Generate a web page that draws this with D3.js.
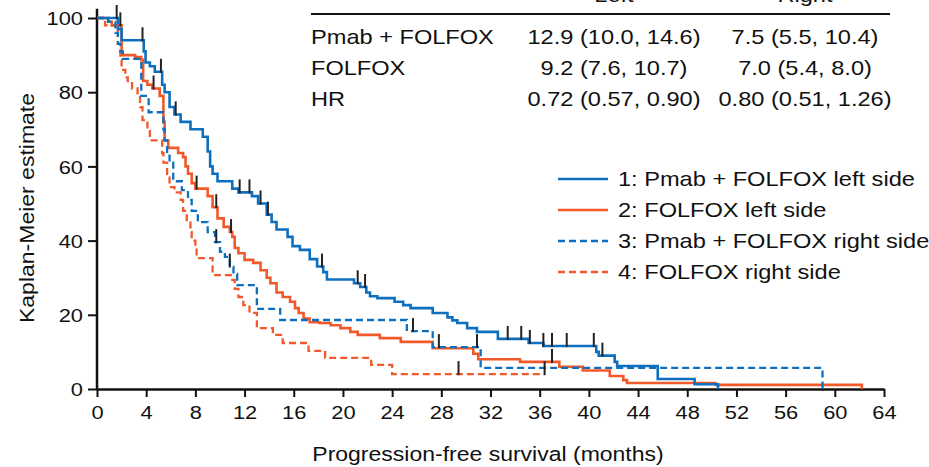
<!DOCTYPE html>
<html>
<head>
<meta charset="utf-8">
<script src="https://cdn.jsdelivr.net/npm/d3@7"></script>
<style>
  body { margin: 0; background: #fff; }
  text { font-family: "Liberation Sans", Arial, Helvetica, sans-serif; fill: #111; }
</style>
</head>
<body>
<script>
// ---- data ----
// event times (months) and survival (%) after each step
const pmabLeftT  = [1.7, 2.0, 3.8, 3.95, 4.3, 4.7, 5.3, 5.5, 5.9, 6.3, 6.8, 7.6, 8.6, 9.0, 9.2, 9.4, 9.8, 11.0, 11.5, 12.6, 13.1, 13.8, 14.2, 14.6, 15.5, 15.9, 16.5, 17.3, 17.9, 18.4, 18.7, 20.9, 21.4, 21.9, 22.2, 22.8, 24.2, 24.9, 25.5, 27.3, 28.5, 28.9, 29.3, 30.1, 30.9, 32.6, 35.1, 36.3, 40.6, 40.8, 42.1, 42.3, 45.6, 48.6, 50.5];
const pmabLeftS  = [97, 94, 91, 88, 87, 85.5, 82, 80, 76, 74, 72, 70, 68, 64, 60, 58, 56, 54, 53, 52, 50, 47, 45, 43, 41, 38.5, 37.5, 35, 33, 31.5, 29.5, 28.5, 27.5, 26, 25, 24.5, 23.5, 22.6, 21.8, 20.5, 19.3, 18.5, 17.8, 16.4, 15.4, 13.5, 12.4, 11.6, 10, 9, 7.3, 6.2, 2.7, 1.3, 0];
const pmabLeftC  = [1.6, 3.7, 5.2, 6.4, 11.6, 12.4, 13.3, 13.9, 18.3, 21.2, 21.8, 33.4, 34.5, 35.2, 36.3, 37.0, 38.2, 40.4, 41.1];

const folfoxLeftT = [0.9, 1.2, 2.0, 3.1, 3.6, 3.75, 4.1, 4.5, 5.1, 5.4, 5.5, 5.8, 6.6, 7.0, 7.2, 7.4, 7.7, 8.0, 9.0, 9.4, 9.8, 10.3, 10.8, 11.0, 11.2, 11.5, 12.0, 12.7, 13.3, 13.8, 14.1, 14.6, 15.1, 15.7, 16.1, 16.4, 16.8, 17.3, 18.1, 19.0, 19.8, 20.6, 21.2, 23.0, 24.7, 27.3, 30.6, 31.0, 34.4, 37.6, 39.5, 41.7, 42.8, 43.1, 50.3, 62.2];
const folfoxLeftS = [99, 98, 90, 89.5, 88.7, 83, 82, 81, 79, 72, 67, 65, 63.6, 62.5, 60, 58, 55.5, 54, 52, 49, 46, 43.7, 42.3, 41, 38, 36.6, 34.8, 34, 32, 30, 28.5, 26, 24.8, 23.5, 21.8, 20.5, 19, 18, 17.8, 17.2, 16.4, 15.4, 14.6, 13.7, 12.7, 11, 9.5, 8, 7.3, 6, 5, 3.5, 2.4, 1.6, 1.1, 0];
const folfoxLeftC = [1.9, 4.6, 8.1, 9.7, 10.9, 37.0];

const pmabRightT = [0.9, 1.5, 1.7, 1.9, 2.1, 3.6, 4.2, 5.4, 5.5, 5.7, 5.9, 6.2, 6.9, 7.4, 7.7, 8.2, 9.0, 9.6, 10.0, 10.4, 10.8, 11.1, 11.4, 13.0, 14.9, 25.2, 27.3, 31.2, 59.0];
const pmabRightS = [99, 96, 93, 91, 89, 79, 74.6, 70, 67, 63.6, 61, 56, 53.6, 51, 48, 45, 42.3, 39.6, 37, 35.6, 33, 31, 28, 21.6, 18.6, 15.6, 11.3, 5.7, 0];
const pmabRightC = [9.7, 10.8, 25.7, 27.8, 30.9];

const folfoxRightT = [0.65, 1.7, 1.9, 2.0, 2.3, 2.5, 2.85, 3.3, 3.5, 3.7, 4.1, 4.3, 5.3, 5.4, 5.7, 5.9, 6.3, 6.8, 7.0, 7.3, 7.6, 7.7, 8.0, 8.1, 9.4, 11.0, 11.2, 11.5, 11.9, 12.4, 13.0, 14.3, 15.1, 17.2, 18.55, 22.3, 24.0];
const folfoxRightS = [98, 93, 88.7, 86, 84, 83, 81, 79, 76, 72.5, 70, 67, 63.6, 61, 58, 54.4, 53, 51, 48, 45.5, 42.3, 40, 38, 35.3, 30.7, 29.4, 27, 24.8, 22.6, 20.5, 16.4, 14.6, 12.4, 10.3, 8.4, 6.5, 4];
const folfoxRightC = [29.4, 36.4];

const legendLabels = ["1: Pmab + FOLFOX left side", "2: FOLFOX left side", "3: Pmab + FOLFOX right side", "4: FOLFOX right side"];
const tableHeads   = ["Left", "Right"];
const tableRows    = ["Pmab + FOLFOX", "FOLFOX", "HR"];
const tableLeft    = ["12.9 (10.0, 14.6)", "9.2 (7.6, 10.7)", "0.72 (0.57, 0.90)"];
const tableRight   = ["7.5 (5.5, 10.4)", "7.0 (5.4, 8.0)", "0.80 (0.51, 1.26)"];
const xTicks = d3.range(0, 65, 4);
const yTicks = [0, 20, 40, 60, 80, 100];

// ---- setup ----
const width = 929, height = 467;
const SX = 1.18;   // the figure's type is set wide
const blue = '#0d6fc0', orange = '#f2592a';

const svg = d3.select('body').append('svg').attr('width', width).attr('height', height);
const x = d3.scaleLinear().domain([0, 64]).range([97, 884]);
const y = d3.scaleLinear().domain([0, 100]).range([389, 18]);

function wideText(g, str, tx, ty, size, anchor) {
  return g.append('text')
    .attr('transform', `translate(${tx},${ty}) scale(${SX},1)`)
    .attr('text-anchor', anchor || 'start')
    .style('font-size', size + 'px')
    .text(str);
}

// ---- axes ----
const yAxis = svg.append('g').attr('transform', `translate(${x(0)},0)`)
  .call(d3.axisLeft(y).tickValues(yTicks).tickSize(9).tickSizeOuter(0));
yAxis.select('.domain').remove();
yAxis.append('line').attr('y1', y(102.5)).attr('y2', y(0)).attr('stroke', '#111').attr('stroke-width', 2.5);
yAxis.selectAll('.tick line').attr('stroke', '#111').attr('stroke-width', 2);
yAxis.selectAll('.tick text')
  .attr('x', null).attr('dy', '0.36em')
  .attr('transform', `translate(-14,0) scale(${SX},1)`)
  .style('font-size', '18.5px').attr('fill', '#111');

const xAxis = svg.append('g').attr('transform', `translate(0,${y(0)})`)
  .call(d3.axisBottom(x).tickValues(xTicks).tickSize(8).tickSizeOuter(0));
xAxis.select('.domain').attr('stroke', '#111').attr('stroke-width', 2.5);
xAxis.selectAll('.tick line').attr('stroke', '#111').attr('stroke-width', 2);
xAxis.selectAll('.tick text')
  .attr('y', null).attr('dy', null)
  .attr('transform', `translate(0,30) scale(${SX},1)`)
  .style('font-size', '18.5px').attr('fill', '#111');

svg.selectAll('g').attr('font-family', null).attr('font-size', null);

wideText(svg, 'Progression-free survival (months)', 488, 461, 19.5, 'middle');
svg.append('text')
  .attr('transform', `translate(34,208) rotate(-90) scale(${SX},1)`)
  .attr('text-anchor', 'middle')
  .style('font-size', '19.5px')
  .text('Kaplan-Meier estimate');

// ---- curves ----
function steps(T, S, C) {
  const pts = [[0, 100]].concat(T.map((t, i) => [t, S[i]]));
  const last = d3.max(C.concat(T));
  if (last > T[T.length - 1]) pts.push([last, S[S.length - 1]]);
  return pts;
}
function survAt(T, S, t) {
  let s = 100;
  T.forEach((ti, i) => { if (ti <= t) s = S[i]; });
  return s;
}

const series = [
  { T: folfoxLeftT,  S: folfoxLeftS,  C: folfoxLeftC,  color: orange, dash: null },
  { T: pmabLeftT,    S: pmabLeftS,    C: pmabLeftC,    color: blue,   dash: null },
  { T: folfoxRightT, S: folfoxRightS, C: folfoxRightC, color: orange, dash: '7,4' },
  { T: pmabRightT,   S: pmabRightS,   C: pmabRightC,   color: blue,   dash: '7,4' }
];

const line = d3.line().x(d => x(d[0])).y(d => y(d[1])).curve(d3.curveStepAfter);

svg.append('g').selectAll('path')
  .data(series)
  .enter().append('path')
  .attr('d', d => line(steps(d.T, d.S, d.C)))
  .attr('fill', 'none')
  .attr('stroke', d => d.color)
  .attr('stroke-width', d => d.dash ? 2.3 : 2.6)
  .attr('stroke-dasharray', d => d.dash);

// censor marks
const censors = [];
series.forEach(s => s.C.forEach(c => censors.push({ t: c, v: survAt(s.T, s.S, c) })));
svg.append('g').selectAll('line')
  .data(censors)
  .enter().append('line')
  .attr('x1', d => x(d.t)).attr('x2', d => x(d.t))
  .attr('y1', d => y(d.v) - 13).attr('y2', d => y(d.v) + 1)
  .attr('stroke', '#222').attr('stroke-width', 2);

// ---- table ----
const table = svg.append('g');
table.append('line').attr('x1', 311).attr('x2', 890).attr('y1', 14).attr('y2', 14)
  .attr('stroke', '#111').attr('stroke-width', 2);
const colX = [614, 805];
tableHeads.forEach((h, i) => wideText(table, h, colX[i], 2, 20, 'middle'));
tableRows.forEach((r, i) => {
  const by = 44 + i * 31;
  wideText(table, r, 311, by, 20);
  wideText(table, tableLeft[i], colX[0], by, 20, 'middle');
  wideText(table, tableRight[i], colX[1], by, 20, 'middle');
});

// ---- legend ----
const legendStyle = [
  { color: blue, dash: null }, { color: orange, dash: null },
  { color: blue, dash: '7,4' }, { color: orange, dash: '7,4' }
];
const legend = svg.append('g');
legendLabels.forEach((lab, i) => {
  const ly = 179 + i * 31;
  legend.append('line')
    .attr('x1', 558).attr('x2', 608).attr('y1', ly).attr('y2', ly)
    .attr('stroke', legendStyle[i].color).attr('stroke-width', 2.4)
    .attr('stroke-dasharray', legendStyle[i].dash);
  wideText(legend, lab, 618, ly + 7, 20);
});
</script>
</body>
</html>
